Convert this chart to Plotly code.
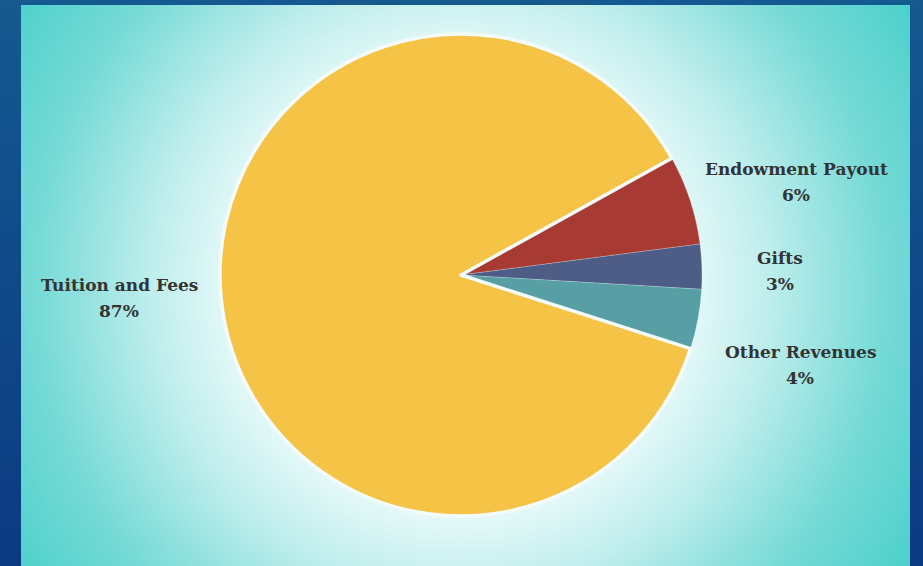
import plotly.graph_objects as go
import urllib.parse

labels = ["Endowment Payout", "Gifts", "Other Revenues", "Tuition and Fees"]
values = [6, 3, 4, 87]
colors = ["#a73b33", "#4e5d86", "#579fa5", "#f5c346"]
# label centre positions in pixels (name line); percent line sits below
label_px = [796, 780, 800, 119]
label_py = [169, 258, 352, 285]

W, H = 923, 566
LINE_GAP = 26

svg = (
    '<svg xmlns="http://www.w3.org/2000/svg" width="923" height="566">'
    '<defs><radialGradient id="g" cx="460" cy="285" r="530" gradientUnits="userSpaceOnUse">'
    '<stop offset="0" stop-color="#ffffff"/>'
    '<stop offset="0.44" stop-color="#e4f8f8"/>'
    '<stop offset="0.58" stop-color="#bfeeed"/>'
    '<stop offset="0.8" stop-color="#76dad6"/>'
    '<stop offset="1" stop-color="#4cd0cb"/>'
    '</radialGradient>'
    '<linearGradient id="b" x1="0" y1="0" x2="0" y2="1">'
    '<stop offset="0" stop-color="#14598f"/><stop offset="1" stop-color="#0c3a82"/>'
    '</linearGradient></defs>'
    '<rect x="0" y="0" width="923" height="566" fill="url(#b)"/>'
    '<rect x="21" y="5" width="889" height="561" fill="url(#g)"/>'
    '</svg>'
)
src = "data:image/svg+xml;charset=utf-8," + urllib.parse.quote(svg)

fig = go.Figure()
fig.add_trace(go.Pie(
    labels=labels,
    values=values,
    sort=False,
    direction="clockwise",
    rotation=61,
    textinfo="none",
    hoverinfo="label+percent",
    marker=dict(colors=colors,
                line=dict(color=["rgba(255,255,255,0.25)"] * 3 + ["#f4fbfb"],
                          width=[0.8, 0.8, 0.8, 3.5])),
    domain=dict(x=[220 / W, 702 / W], y=[50 / H, 532 / H]),
    showlegend=False,
))

font = dict(family="DejaVu Serif", size=17, color="#333333")
for lab, v, px, py in zip(labels, values, label_px, label_py):
    fig.add_annotation(
        x=px / W, y=1 - py / H, xref="paper", yref="paper",
        xanchor="center", yanchor="middle",
        text=f"<b>{lab}</b>", showarrow=False, font=font,
    )
    fig.add_annotation(
        x=px / W, y=1 - (py + LINE_GAP) / H, xref="paper", yref="paper",
        xanchor="center", yanchor="middle",
        text=f"<b>{v}%</b>", showarrow=False, font=font,
    )

fig.update_layout(
    width=W, height=H,
    margin=dict(l=0, r=0, t=0, b=0),
    paper_bgcolor="#10478a",
    plot_bgcolor="rgba(0,0,0,0)",
    images=[dict(source=src, xref="paper", yref="paper", x=0, y=1,
                 sizex=1, sizey=1, xanchor="left", yanchor="top",
                 sizing="stretch", layer="below")],
)

fig.write_html("out.html")
